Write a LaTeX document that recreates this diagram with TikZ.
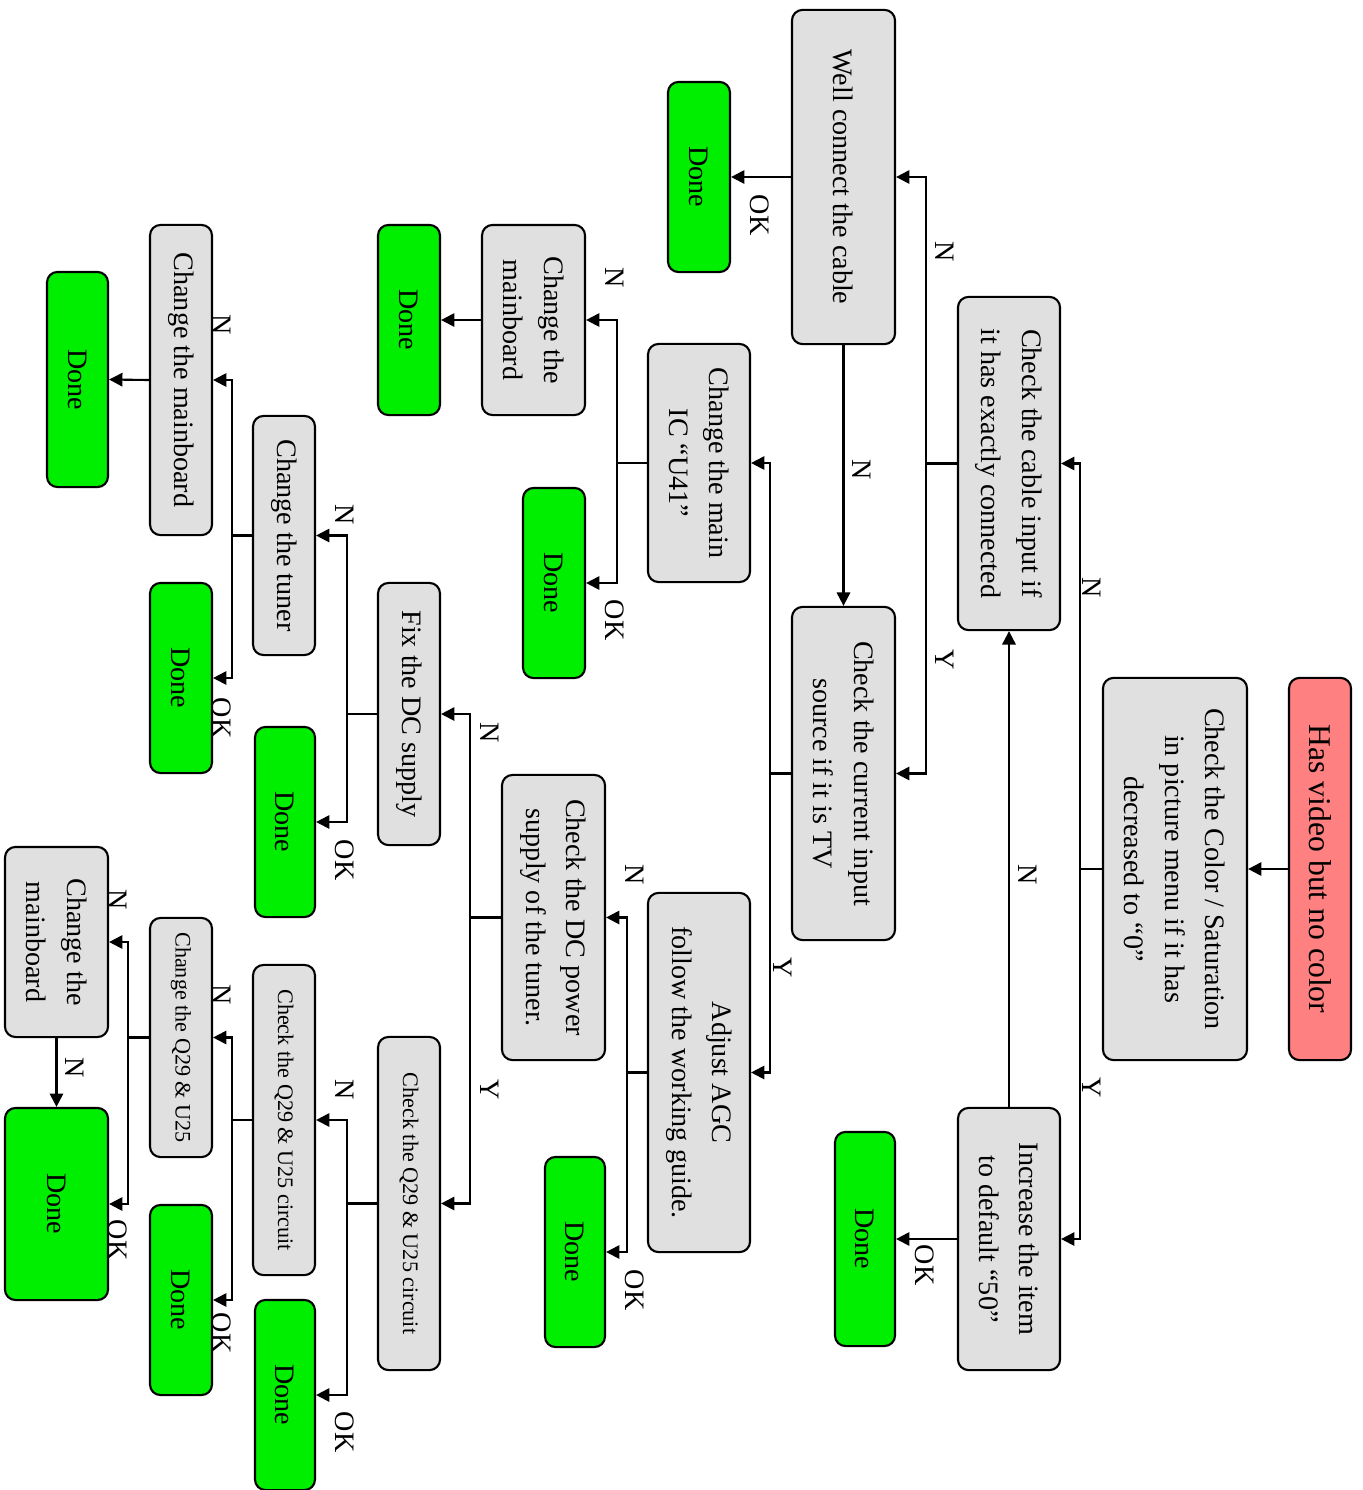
\documentclass[tikz,border=0pt]{standalone}
\usepackage{fontspec}
\setmainfont{Liberation Serif}
\usepackage{xcolor}
\definecolor{boxGray}{HTML}{E0E0E0}
\definecolor{doneGreen}{HTML}{00EE00}
\definecolor{startRed}{HTML}{FF8080}
\usetikzlibrary{arrows.meta}
\tikzset{
  stepbox/.style={draw, rounded corners=3pt, fill=boxGray, rotate=-90,
    align=center, inner sep=1pt, font=\fontsize{8}{11.5}\selectfont},
  smallbox/.style={stepbox, font=\fontsize{6.3}{8}\selectfont},
  donebox/.style={stepbox, fill=doneGreen},
  startbox/.style={stepbox, fill=startRed, font=\fontsize{9}{11}\selectfont},
  yesno/.style={rotate=-90, inner sep=0pt, font=\fontsize{8}{10}\selectfont},
}

\begin{document}
\begin{tikzpicture}[x=0.01cm, y=-0.01cm, line width=0.6pt,
    >={Triangle[length=3.8pt,width=3.8pt]}]
  \useasboundingbox (0,0) rectangle (1363,1490);
  % the symptom and the first check
  \node[startbox, minimum width=3.82cm, minimum height=0.62cm] (root) at (1320,869) {Has video but no color};
  \node[stepbox, minimum width=3.82cm, minimum height=1.44cm] (color) at (1175,869)
    {Check the Color / Saturation\\in picture menu if it has\\decreased to “0”};
  \node[stepbox, minimum width=3.33cm, minimum height=1.02cm] (cable) at (1009,463.5)
    {Check the cable input if\\it has exactly connected};
  \node[stepbox, minimum width=2.62cm, minimum height=1.02cm] (incr) at (1009,1239)
    {Increase the item\\to default “50”};
  % cable and source
  \node[stepbox, minimum width=3.34cm, minimum height=1.03cm] (well) at (843.5,177) {Well connect the cable};
  \node[stepbox, minimum width=3.33cm, minimum height=1.03cm] (curr) at (843.5,773.5)
    {Check the current input\\source if it is TV};
  \node[stepbox, minimum width=2.38cm, minimum height=1.02cm] (mainic) at (699,463) {Change the main\\IC “U41”};
  \node[stepbox, minimum width=1.90cm, minimum height=1.03cm] (mb1) at (533.5,320) {Change the\\mainboard};
  \node[stepbox, minimum width=3.59cm, minimum height=1.02cm] (agc) at (699,1072.5)
    {Adjust AGC\\follow the working guide.};
  % tuner supply
  \node[stepbox, minimum width=2.85cm, minimum height=1.03cm] (dcpow) at (553.5,917.5)
    {Check the DC power\\supply of the tuner.};
  \node[stepbox, minimum width=2.62cm, minimum height=0.62cm] (fixdc) at (409,714) {Fix the DC supply};
  \node[stepbox, minimum width=2.39cm, minimum height=0.62cm] (tuner) at (284,535.5) {Change the tuner};
  \node[stepbox, minimum width=3.10cm, minimum height=0.62cm] (mb2) at (181,380) {Change the mainboard};
  \node[smallbox, minimum width=3.33cm, minimum height=0.62cm] (qa) at (409,1203.5) {Check the Q29 \& U25 circuit};
  \node[smallbox, minimum width=3.10cm, minimum height=0.62cm] (qb) at (284,1120) {Check the Q29 \& U25 circuit};
  \node[smallbox, minimum width=2.39cm, minimum height=0.62cm] (q29) at (181,1037.5) {Change the Q29 \& U25};
  \node[stepbox, minimum width=1.90cm, minimum height=1.03cm] (mb3) at (56.5,942) {Change the\\mainboard};
  % done boxes
  \foreach \n/\x/\y/\l/\t in {d1/699/177/1.90cm/0.62cm, d2/409/320/1.90cm/0.62cm,
      d3/554/583/1.90cm/0.62cm, d4/865/1239/2.14cm/0.60cm, d5/575/1252/1.90cm/0.60cm,
      d6/285/822/1.90cm/0.60cm, d7/181/678/1.90cm/0.62cm, d8/77.5/379.5/2.15cm/0.61cm,
      d9/285/1395/1.90cm/0.60cm, d10/181/1300/1.90cm/0.62cm, d11/56.5/1204/1.92cm/1.03cm} {
    \node[donebox, minimum width=\l, minimum height=\t] (\n) at (\x,\y) {Done};
  }
  % branch points
  \coordinate (b1) at (1080,869);
  \coordinate (b2) at (926,463.5);
  \coordinate (b3) at (770,773.5);
  \coordinate (b4) at (617,463);
  \coordinate (b5) at (627,1072.5);
  \coordinate (b6) at (470,917.5);
  \coordinate (b7) at (347,714);
  \coordinate (b8) at (232,535.5);
  \coordinate (b9) at (347,1203.5);
  \coordinate (b10) at (232,1120);
  \coordinate (b11) at (128,1037.5);
  % connectors
  \draw[->] (root.south) -- (color.north);
  \draw[->] (color.south) -- (b1) |- (cable.north);
  \draw[->] (b1) |- (incr.north);
  \draw[->] (incr.south) -- (d4.north);
  \draw[->] (incr.west) -- (cable.east);
  \draw[->] (cable.south) -- (b2) |- (well.north);
  \draw[->] (b2) |- (curr.north);
  \draw[->] (well.south) -- (d1.north);
  \draw[->] (well.east) -- (curr.west);
  \draw[->] (curr.south) -- (b3) |- (mainic.north);
  \draw[->] (b3) |- (agc.north);
  \draw[->] (mainic.south) -- (b4) |- (mb1.north);
  \draw[->] (b4) |- (d3.north);
  \draw[->] (mb1.south) -- (d2.north);
  \draw[->] (agc.south) -- (b5) |- (dcpow.north);
  \draw[->] (b5) |- (d5.north);
  \draw[->] (dcpow.south) -- (b6) |- (fixdc.north);
  \draw[->] (b6) |- (qa.north);
  \draw[->] (fixdc.south) -- (b7) |- (tuner.north);
  \draw[->] (b7) |- (d6.north);
  \draw[->] (tuner.south) -- (b8) |- (mb2.north);
  \draw[->] (b8) |- (d7.north);
  \draw[->] (mb2.south) -- (d8.north);
  \draw[->] (qa.south) -- (b9) |- (qb.north);
  \draw[->] (b9) |- (d9.north);
  \draw[->] (qb.south) -- (b10) |- (q29.north);
  \draw[->] (b10) |- (d10.north);
  \draw[->] (q29.south) -- (b11) |- (mb3.north);
  \draw[->] (b11) |- (d11.north);
  \draw[->] (mb3.east) -- (d11.west);
  % answers
  \foreach \n/\x/\y/\a in {a1/1092/588/N, a2/1092/1088/Y, a3/925/1265/OK, a4/1028/875/N,
      a5/945/252/N, a6/945/660/Y, a7/760/215/OK, a8/862/470/N, a9/783/968/Y,
      a10/615/278/N, a11/615/620/OK, a12/635/875/N, a13/635/1290/OK, a14/490/733/N,
      a15/490/1090/Y, a16/345/515/N, a17/345/860/OK, a18/222/325/N, a19/222/718/OK,
      a20/345/1090/N, a21/345/1432/OK, a22/222/995/N, a23/222/1333/OK, a24/118/900/N,
      a25/118/1240/OK, a26/75/1068/N} {
    \node[yesno] (\n) at (\x,\y) {\a};
  }
\end{tikzpicture}
\end{document}
